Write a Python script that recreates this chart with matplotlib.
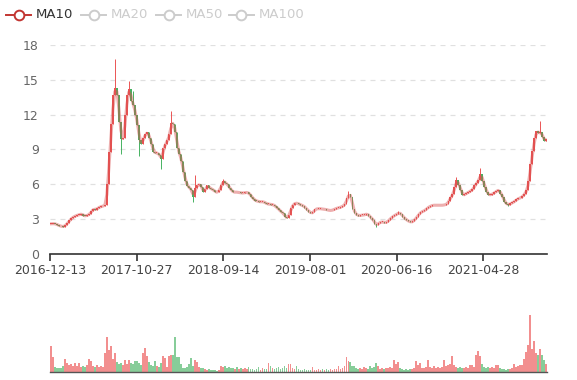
import numpy as np
import pandas as pd
import matplotlib
matplotlib.use('Agg')
import matplotlib.pyplot as plt
from matplotlib.lines import Line2D

# weekly closing prices (2016-12 .. 2022-01)
closes = [
    2.60, 2.62, 2.58, 2.50, 2.42, 2.38, 2.35, 2.50, 2.70, 2.90,
    3.10, 3.20, 3.30, 3.35, 3.40, 3.45, 3.30, 3.28, 3.35, 3.45,
    3.70, 3.90, 3.80, 3.95, 4.05, 4.10, 4.15, 4.25, 6.00, 8.80,
    11.2, 13.7, 14.3, 13.7, 11.4, 9.90, 10.0, 12.0, 13.7, 14.2,
    13.2, 12.8, 12.0, 11.1, 9.80, 9.50, 10.0, 10.3, 10.5, 10.0,
    9.50, 8.80, 8.70, 8.70, 8.50, 8.20, 9.10, 9.50, 9.80, 10.3,
    11.3, 11.2, 10.5, 9.10, 8.60, 8.00, 7.10, 6.30, 5.85, 5.70,
    5.50, 4.90, 5.70, 5.90, 6.00, 5.80, 5.30, 5.60, 5.90, 5.70,
    5.60, 5.50, 5.35, 5.30, 5.50, 5.90, 6.30, 6.10, 6.00, 5.70,
    5.50, 5.30, 5.35, 5.30, 5.30, 5.25, 5.25, 5.30, 5.30, 5.20,
    4.95, 4.75, 4.60, 4.55, 4.50, 4.50, 4.50, 4.40, 4.30, 4.30,
    4.25, 4.25, 4.10, 3.95, 3.80, 3.60, 3.50, 3.20, 3.10, 3.40,
    4.00, 4.25, 4.40, 4.35, 4.30, 4.20, 4.15, 4.00, 3.80, 3.65,
    3.50, 3.60, 3.85, 3.90, 3.90, 3.90, 3.85, 3.85, 3.80, 3.75,
    3.75, 3.80, 3.90, 3.95, 4.00, 4.05, 4.15, 4.30, 4.80, 5.20,
    4.90, 3.90, 3.50, 3.35, 3.30, 3.35, 3.35, 3.40, 3.45, 3.30,
    3.10, 2.95, 2.60, 2.50, 2.70, 2.75, 2.75, 2.70, 2.75, 2.95,
    3.10, 3.25, 3.35, 3.45, 3.55, 3.45, 3.20, 3.05, 2.90, 2.80,
    2.75, 2.80, 3.00, 3.20, 3.45, 3.60, 3.70, 3.75, 3.95, 4.05,
    4.15, 4.20, 4.20, 4.20, 4.20, 4.20, 4.20, 4.25, 4.30, 4.60,
    4.90, 5.20, 5.80, 6.35, 5.95, 5.50, 5.05, 5.15, 5.25, 5.35,
    5.45, 5.60, 5.90, 6.15, 6.40, 6.90, 6.30, 5.80, 5.30, 5.10,
    5.10, 5.20, 5.30, 5.45, 5.50, 5.20, 4.90, 4.45, 4.30, 4.25,
    4.35, 4.45, 4.55, 4.70, 4.80, 4.85, 5.00, 5.20, 5.50, 6.30,
    7.75, 8.90, 10.0, 10.6, 10.4, 10.5, 10.1, 9.75, 9.90,
]

# weekly volume (relative units)
volumes = [
    26, 15, 5, 4, 4, 4, 6, 13, 9, 7,
    8, 6, 9, 6, 9, 5, 6, 5, 7, 13,
    11, 6, 5, 7, 5, 6, 5, 19, 35, 22,
    26, 13, 19, 10, 8, 9, 7, 12, 8, 12,
    9, 8, 11, 11, 9, 7, 19, 24, 16, 10,
    7, 6, 11, 6, 5, 9, 16, 14, 5, 16,
    17, 17, 35, 15, 15, 8, 4, 4, 5, 8,
    14, 6, 12, 10, 5, 4, 4, 3, 2, 3,
    2, 2, 2, 1.5, 2, 6, 5, 6, 4, 5,
    4, 4, 3, 5, 3, 4, 3, 4, 3, 5,
    3, 3, 2, 3, 5, 2, 4, 3, 3, 9,
    6, 4, 3, 4, 5, 3, 4, 6, 4, 8,
    8, 4, 3, 6, 3, 2, 2, 3, 2, 2,
    2, 5, 2, 2, 3, 2, 3, 2, 3, 2,
    3, 2, 3, 3, 6, 3, 4, 6, 15, 11,
    10, 6, 6, 4, 3, 4, 3, 5, 4, 3,
    6, 4, 5, 9, 6, 3, 4, 3, 4, 4,
    5, 4, 12, 8, 10, 4, 3, 2, 3, 2,
    3, 3, 4, 11, 7, 9, 4, 4, 5, 12,
    5, 4, 6, 4, 5, 4, 5, 12, 6, 7,
    8, 16, 7, 5, 4, 5, 4, 4, 5, 4,
    7, 7, 5, 17, 21, 16, 8, 5, 4, 5,
    4, 5, 4, 7, 7, 4, 3, 3, 2, 3,
    3, 4, 8, 5, 6, 7, 7, 13, 20, 27,
    57, 23, 31, 19, 17, 23, 17, 12, 8,
]

# long wicks visible on the chart (week index -> price)
high_spikes = {32: 16.8, 39: 14.9, 41: 14.0, 60: 12.3, 72: 6.8, 86: 6.5,
               149: 5.4, 174: 3.7, 203: 6.6, 215: 7.4, 245: 11.45}
low_spikes = {35: 8.6, 44: 8.4, 55: 7.3, 71: 4.45, 163: 2.3, 229: 4.1}

tick_labels = ['2016-12-13', '2017-10-27', '2018-09-14',
               '2019-08-01', '2020-06-16', '2021-04-28']
days_per_tick = 217
legend_names = ['MA10', 'MA20', 'MA50', 'MA100']

up_color = '#eb5454'
down_color = '#47b262'
ma_color = '#d94e4e'

n = len(closes)
idx = np.arange(n)
close = np.array(closes)
opens = np.concatenate([[closes[0]], close[:-1]])
body_lo = np.minimum(opens, close)
body_hi = np.maximum(opens, close)
highs = body_hi.copy()
lows = body_lo.copy()
for k, v in high_spikes.items():
    highs[k] = v
for k, v in low_spikes.items():
    lows[k] = v
up = close >= opens
colors = np.where(up, up_color, down_color)
ma10 = pd.Series(close).rolling(2, min_periods=1).mean()

fig = plt.figure(figsize=(5.77, 3.8), dpi=100)
ax = fig.add_axes([50 / 577, 1 - 254 / 380, 497 / 577, 209 / 380])
axv = fig.add_axes([50 / 577, 1 - 372 / 380, 497 / 577, 72 / 380])

# candles
ax.vlines(idx, lows, highs, colors=colors, linewidth=0.7, zorder=2)
ax.bar(idx, np.maximum(body_hi - body_lo, 0.06), bottom=body_lo,
       width=0.7, color=colors, linewidth=0, zorder=2)
ax.plot(idx, ma10, color=ma_color, alpha=0.45, linewidth=2.2, zorder=3)

ax.set_xlim(-0.5, n - 0.5)
ax.set_ylim(0, 18)
ax.set_yticks([0, 3, 6, 9, 12, 15, 18])
ax.yaxis.grid(True, color='#e0e0e0', linestyle=(0, (4, 4)), linewidth=0.9)
ax.set_axisbelow(True)
for s in ['top', 'right', 'left']:
    ax.spines[s].set_visible(False)
ax.spines['bottom'].set_color('#333333')
ax.spines['bottom'].set_linewidth(1.2)
tick_pos = [k * days_per_tick / 5 - 0.5 for k in range(len(tick_labels))]
ax.set_xticks(tick_pos)
ax.set_xticklabels(tick_labels)
ax.tick_params(axis='x', colors='#333333', length=5, width=1.2, labelsize=9, pad=2,
               labelcolor='#444444')
ax.tick_params(axis='y', length=0, labelsize=9, labelcolor='#666666', pad=8)

# volume
axv.bar(idx, volumes, width=0.9, color=colors, alpha=0.65, linewidth=0)
axv.set_xlim(-0.5, n - 0.5)
axv.set_ylim(0, 72)
axv.set_xticks([])
axv.set_yticks([])
for s in ['top', 'right', 'left']:
    axv.spines[s].set_visible(False)
axv.spines['bottom'].set_color('#555555')
axv.spines['bottom'].set_linewidth(1.0)

# legend (only MA10 is active)
x0 = 6
for i, name in enumerate(legend_names):
    active = i == 0
    c = '#c23531' if active else '#cccccc'
    tc = '#333333' if active else '#cccccc'
    fx = x0 / 577
    fy = 1 - 15 / 380
    fig.add_artist(Line2D([fx, fx + 25 / 577], [fy, fy], color=c, linewidth=1.4,
                          transform=fig.transFigure))
    fig.add_artist(Line2D([fx + 12.5 / 577], [fy], color=c, marker='o', markersize=7,
                          markerfacecolor='white', markeredgewidth=1.4,
                          transform=fig.transFigure))
    fig.text(fx + 30 / 577, fy, name, color=tc, fontsize=9.5, va='center', ha='left')
    x0 += 75 if name != 'MA50' else 73

fig.savefig('out.png', dpi=100)
